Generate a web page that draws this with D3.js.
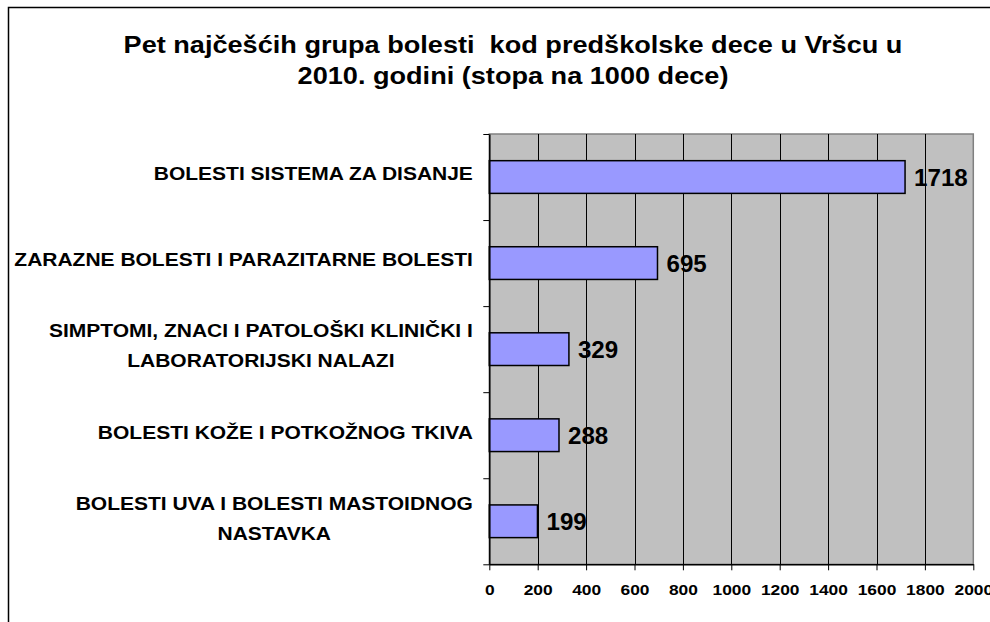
<!DOCTYPE html>
<html>
<head>
<meta charset="utf-8">
<script src="https://cdn.jsdelivr.net/npm/d3@7"></script>
<style>
  html, body { margin: 0; padding: 0; background: #fff; }
  svg { display: block; font-family: "Liberation Sans", Arial, sans-serif; }
  text { white-space: pre; }
</style>
</head>
<body>
<svg id="chart" width="990" height="622"></svg>
<script>
const titleLines = ["Pet najčešćih grupa bolesti  kod predškolske dece u Vršcu u", "2010. godini (stopa na 1000 dece)"];
const categories = [
  "BOLESTI SISTEMA ZA DISANJE",
  "ZARAZNE BOLESTI I PARAZITARNE BOLESTI",
  "SIMPTOMI, ZNACI I PATOLOŠKI KLINIČKI I\nLABORATORIJSKI NALAZI",
  "BOLESTI KOŽE I POTKOŽNOG TKIVA",
  "BOLESTI UVA I BOLESTI MASTOIDNOG\nNASTAVKA"
];
const values = [1718, 695, 329, 288, 199];
const xTicks = [0, 200, 400, 600, 800, 1000, 1200, 1400, 1600, 1800, 2000];

const svg = d3.select("#chart");
const plot = { left: 489.3, right: 973.3, top: 134, bottom: 564.3 };

// outer chart border
svg.append("rect").attr("x", 8.5).attr("y", 7.5).attr("width", 1000).attr("height", 700)
  .attr("fill", "#fff").attr("stroke", "#000").attr("stroke-width", 1.5);

// title
const stretch = (sx) => `scale(${sx},1)`;
svg.append("g").selectAll("text").data(titleLines).join("text")
  .attr("transform", (d, i) => `translate(513,${53 + i * 31}) ${stretch(1.13)}`)
  .attr("text-anchor", "middle")
  .attr("font-size", 24).attr("font-weight", "bold").attr("fill", "#000")
  .text(d => d);

const x = d3.scaleLinear().domain([0, 2000]).range([plot.left, plot.right]);
const y = d3.scaleBand().domain(categories).range([plot.top, plot.bottom])
  .paddingInner(0.62).paddingOuter(0.31);
const yEdge = d3.scaleLinear().domain([0, categories.length]).range([plot.top, plot.bottom]);

// plot background
svg.append("rect").attr("x", plot.left).attr("y", plot.top)
  .attr("width", plot.right - plot.left).attr("height", plot.bottom - plot.top)
  .attr("fill", "#C0C0C0").attr("stroke", "#808080").attr("stroke-width", 1.5);

// gridlines
svg.append("g").selectAll("line").data(xTicks.filter(t => t > 0 && t < 2000)).join("line")
  .attr("x1", d => Math.round(x(d)) + 0.5).attr("x2", d => Math.round(x(d)) + 0.5)
  .attr("y1", plot.top).attr("y2", plot.bottom)
  .attr("stroke", "#000").attr("stroke-width", 1);

// bars
svg.append("g").selectAll("rect").data(values).join("rect")
  .attr("x", x(0))
  .attr("y", (d, i) => y(categories[i]))
  .attr("width", d => x(d) - x(0))
  .attr("height", y.bandwidth())
  .attr("fill", "#9999FF").attr("stroke", "#000").attr("stroke-width", 1.5);

// value labels
svg.append("g").selectAll("text").data(values).join("text")
  .attr("transform", (d, i) => `translate(${x(d) + 9},${y(categories[i]) + y.bandwidth() / 2 + 8.5}) ${stretch(1.05)}`)
  .attr("font-size", 23).attr("font-weight", "bold").attr("fill", "#000")
  .text(d => d);

// x axis
const xAxis = svg.append("g").attr("transform", `translate(0,${plot.bottom})`)
  .call(d3.axisBottom(x).tickValues(xTicks).tickFormat(d3.format("d")).tickSize(6).tickSizeOuter(0).tickPadding(14));
xAxis.select(".domain").attr("stroke", "#000").attr("stroke-width", 1.5);
xAxis.selectAll(".tick line").attr("stroke", "#000");
xAxis.selectAll(".tick text")
  .attr("font-size", 15.5).attr("font-weight", "bold").attr("fill", "#000")
  .attr("font-family", "'Liberation Sans', Arial, sans-serif")
  .attr("transform", stretch(1.12));

// y axis (ticks at band edges)
const yAxis = svg.append("g").attr("transform", `translate(${plot.left},0)`)
  .call(d3.axisLeft(yEdge).ticks(categories.length).tickSize(6).tickSizeOuter(0).tickFormat(""));
yAxis.select(".domain").attr("stroke", "#000").attr("stroke-width", 1.5);
yAxis.selectAll(".tick line").attr("stroke", "#000");

// category labels
const labelRight = 473;
const lg = svg.append("g");
categories.forEach((c, i) => {
  const lines = c.split("\n");
  const cy = y(c) + y.bandwidth() / 2 - 3;
  const sx = 1.2;
  const g = lg.append("g");
  const texts = g.selectAll("text").data(lines).join("text")
    .attr("text-anchor", "middle")
    .attr("font-size", 17.5).attr("font-weight", "bold").attr("fill", "#000")
    .text(d => d);
  let maxW = 0;
  texts.each(function () { maxW = Math.max(maxW, this.getComputedTextLength()); });
  const cx = labelRight - (maxW * sx) / 2;
  const n = lines.length;
  texts.attr("transform", (d, j) => `translate(${cx},${cy + (j - (n - 1) / 2) * 30 + 6.3}) ${stretch(sx)}`);
});
</script>
</body>
</html>
